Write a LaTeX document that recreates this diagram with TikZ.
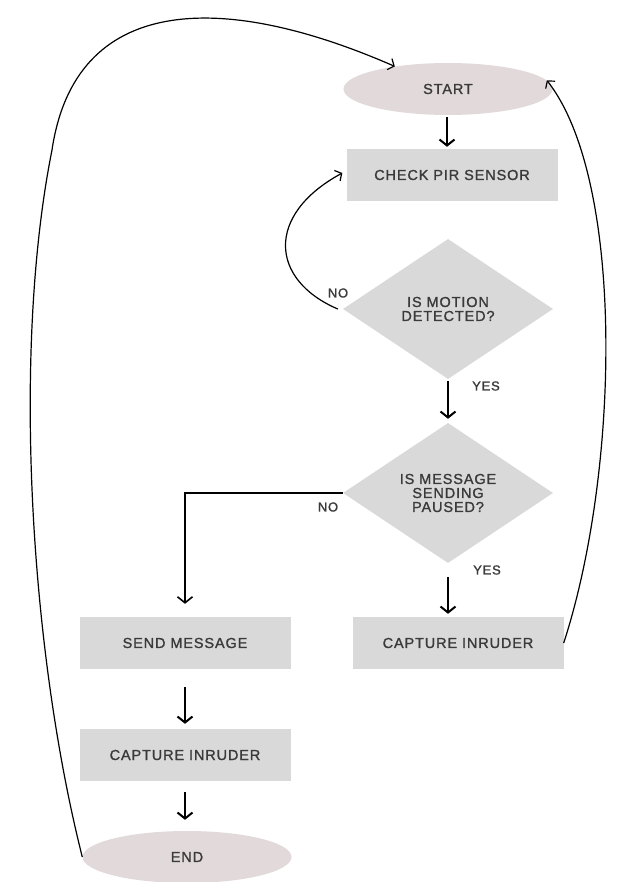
\documentclass[tikz,border=0pt]{standalone}
\usepackage{fontspec}
\newfontfamily\boxfont{Liberation Sans}[LetterSpace=6,FakeBold=1.2]
\usetikzlibrary{shapes.geometric, arrows.meta}
\definecolor{ellfill}{HTML}{E2DADA}
\definecolor{boxfill}{HTML}{D9D9D9}
\definecolor{txt}{HTML}{3A3A3A}
\begin{document}
\begin{tikzpicture}[x=1pt, y=-1pt,
  nodetext/.style={text=txt, font=\boxfont\fontsize{14.5}{14}\selectfont},
  term/.style={ellipse, fill=ellfill, minimum width=209pt, minimum height=52pt, inner sep=0pt, nodetext},
  procbox/.style={rectangle, fill=boxfill, minimum width=211pt, minimum height=52pt, inner sep=0pt, nodetext},
  decision/.style={diamond, fill=boxfill, minimum width=210pt, minimum height=140pt, inner sep=0pt, align=center, nodetext},
  flow/.style={line width=2pt, -{Straight Barb[length=6pt,width=15pt]}},
  curvearrow/.style={line width=1.2pt, -{Straight Barb[length=5pt,width=12pt]}},
  lbl/.style={text=txt, font=\boxfont\fontsize{13}{13}\selectfont, inner sep=0pt}
]
\useasboundingbox (0,0) rectangle (625,882);
\fill[white] (0,0) rectangle (625,882);

\node[term] (start) at (448,89) {START};
\node[procbox] (check) at (452,175) {CHECK PIR SENSOR};
\node[decision] (motion) at (448,309) {IS MOTION\\DETECTED?};
\node[decision] (paused) at (448,493) {IS MESSAGE\\SENDING\\PAUSED?};
\node[procbox] (cap1) at (458,643) {CAPTURE INRUDER};
\node[procbox] (send) at (185,643) {SEND MESSAGE};
\node[procbox] (cap2) at (185,755) {CAPTURE INRUDER};
\node[term] (endn) at (187,857) {END};

\node[lbl] (no1) at (338,293) {NO};
\node[lbl] (yes1) at (486,386) {YES};
\node[lbl] (no2) at (328,507) {NO};
\node[lbl] (yes2) at (487,570) {YES};

% straight arrows
\draw[flow, shorten <=2pt, shorten >=2pt] ([xshift=-1pt]start.south) -- ([xshift=-1pt]start.south |- check.north);
\draw[flow, shorten <=2pt, shorten >=4pt] (motion.south) -- (paused.north);
\draw[flow, shorten <=14pt, shorten >=3pt] (paused.south) -- (paused.south |- cap1.north);
\draw[flow, line width=1.6pt, shorten >=13pt] (paused.west) -| (send.north);
\draw[flow, shorten <=18pt, shorten >=5pt] (send.south) -- (cap2.north);
\draw[flow, shorten <=11pt, shorten >=11pt] (cap2.south) -- (cap2.south |- endn.north);

% curved connectors
\draw[curvearrow] ([xshift=-5pt]motion.west) .. controls (270,280) and (265,215) .. ([xshift=-4pt,yshift=2pt]check.west);
\draw[curvearrow] (endn.west) .. controls (30,650) and (12,350) .. (52,150) .. controls (75,-5) and (220,-10) .. (start.157);
\draw[curvearrow] (cap1.east) .. controls (620,470) and (625,180) .. (start.5);
\end{tikzpicture}
\end{document}
